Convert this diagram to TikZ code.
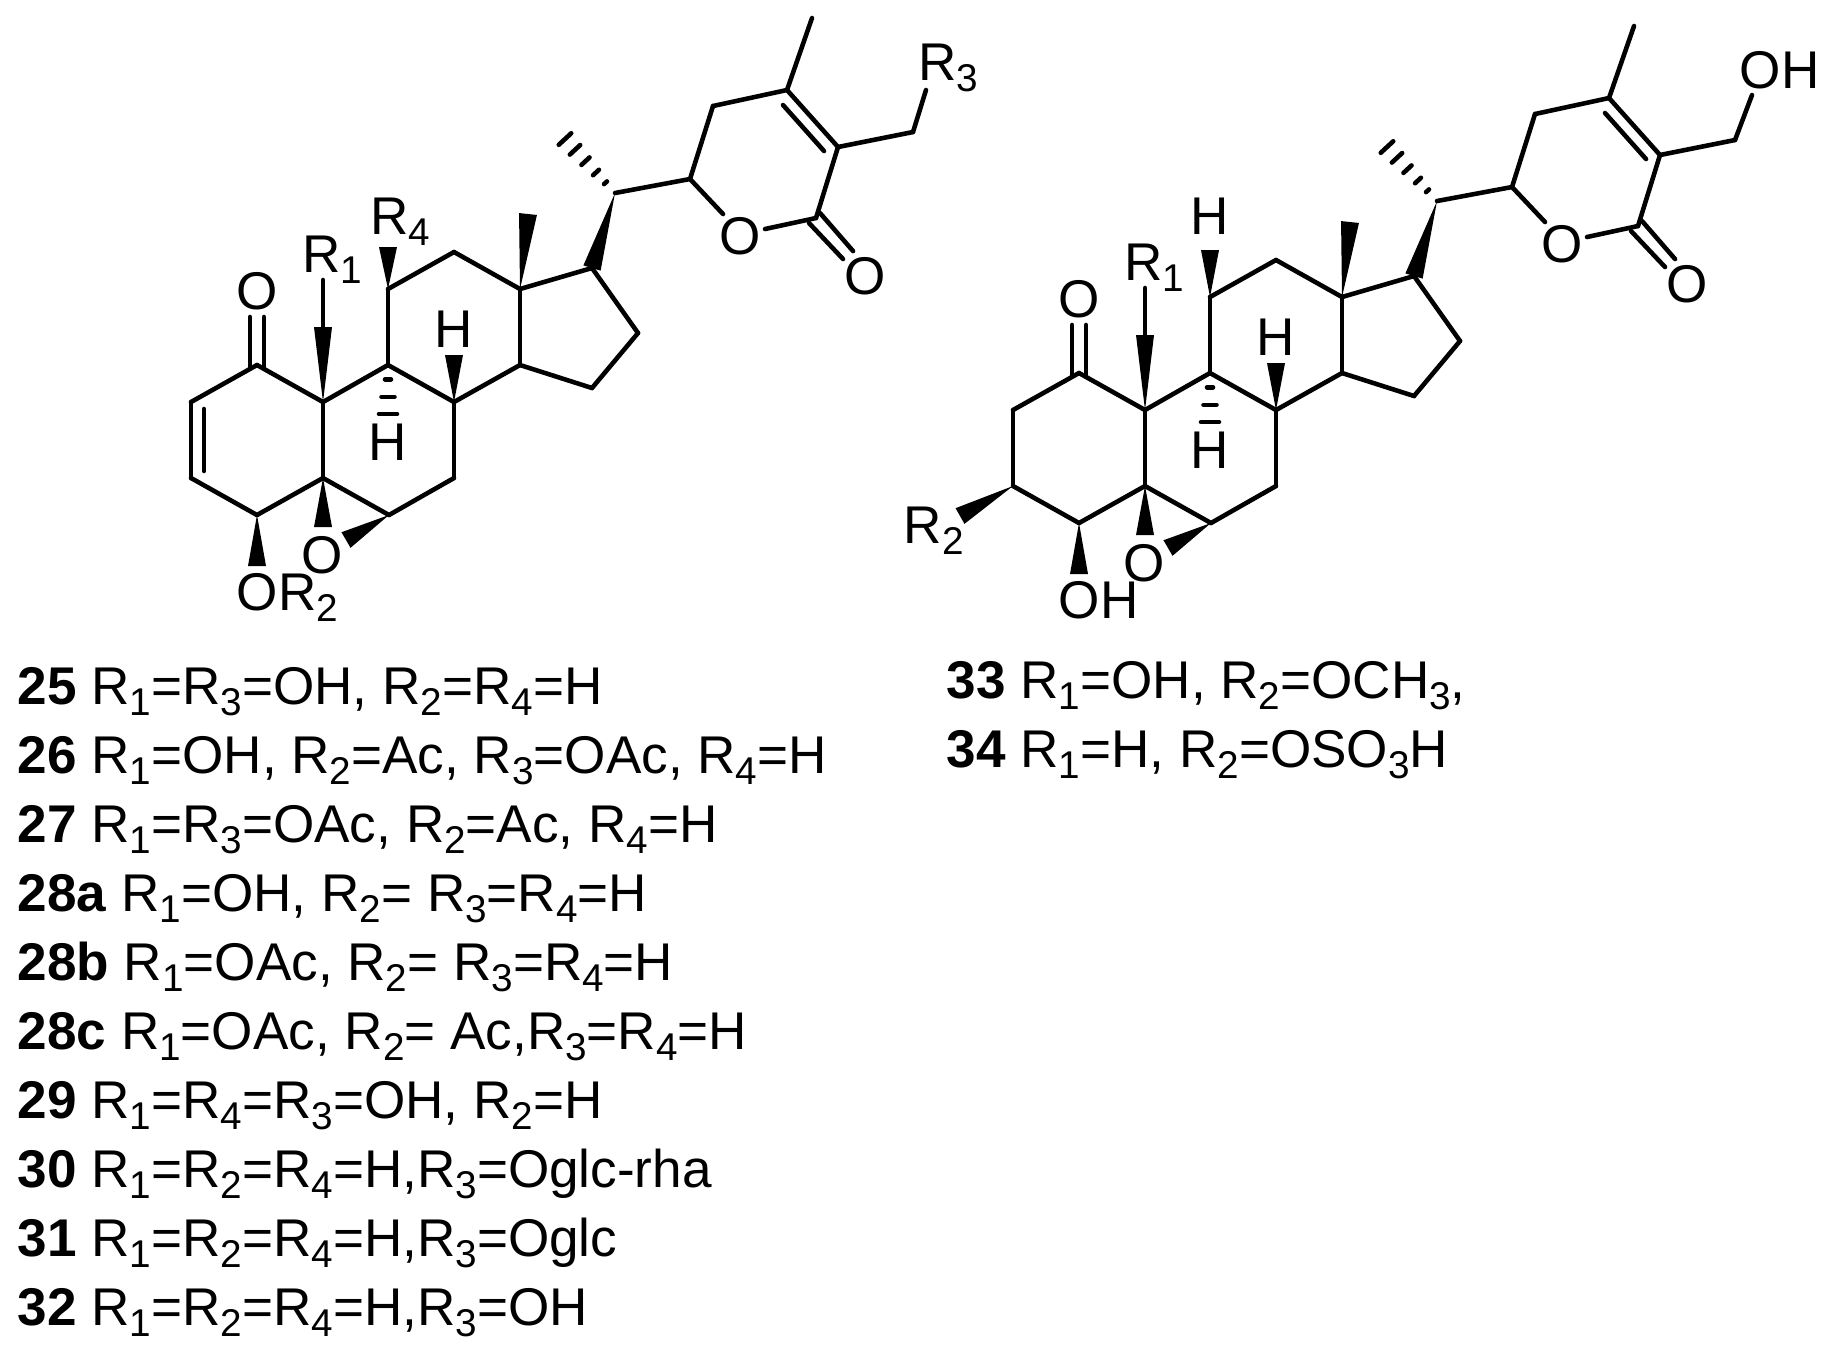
\documentclass[tikz,border=0pt]{standalone}
\usepackage{fontspec}
\setmainfont{Liberation Sans}
\usepackage{tikz}
\usetikzlibrary{calc}
\usepackage{tkz-euclide}

\tikzset{
	bond/.style={line width=1.3pt, line cap=round, line join=round},
	atomlbl/.style={inner sep=0pt, anchor=base, font=\fontsize{15.1pt}{15.1pt}\selectfont},
	listline/.style={inner sep=0pt, anchor=base west, font=\fontsize{15.1pt}{15.1pt}\selectfont}
}
\newcommand{\dn}[1]{\raisebox{-0.11cm}{\fontsize{11pt}{11pt}\selectfont #1}}
\newcommand{\Rs}[1]{R\dn{#1}}
\newcommand{\bondwedge}[2]{\fill[bond] (#1) -- ($(#2)!0.09cm!90:(#1)$) -- ($(#2)!0.09cm!-90:(#1)$) -- cycle;}
\newcommand{\bondhash}[3]{\foreach \f/\w in {#3}{
		\coordinate (hp) at ($(#1)!\f!(#2)$);
		\draw[bond] ($(hp)!\w cm!90:(#1)$) -- ($(hp)!\w cm!-90:(#1)$);}}

% rings B, C, D, side chain and lactone: the same in both molecules
\newcommand{\steroid}[1]{
	\tkzDefPoints{257/365/c1,191/402/c2,191/478/c3,257/515/c4,323/478/c5,389/515/c6,454/478/c7}
	\tkzDefPoints{454/402/c8,388/365/c9,323/402/c10,388/289/c11,454/252/c12,520/289/c13,520/365/c14}
	\tkzDefPoints{592/388/c15,638/333/c16,592/268/c17,615/193/c20,690/179/c22,713/106/c23,787/90/c24}
	\tkzDefPoints{838/147/c25,816/218/c26,913/132/c27,812/18/me,565/139/mh}
	\tkzDefPoints{723/214/oa,765/229/ob,783/105/da,824/151/db}
	\tkzDefPoints{820/213/ea,853/251/eb,809/223/fa,843/259/fb}
	\tkzDefPoints{250/317/ga,250/367/gb,264/317/ha,264/367/hb}
	\tkzDefPoints{323/280/ra,323/327/rb,388/247/wc,528/214/wd,454/355/we,323/527/wf,346/540/wg,257/566/wh,388/414/hh}

	\tkzDrawSegments[bond](c1,c10 c10,c5 c5,c4 c10,c9 c9,c8 c8,c7 c7,c6 c6,c5 c9,c11 c11,c12 c12,c13 c13,c14 c14,c8)
	\tkzDrawSegments[bond](c13,c17 c14,c15 c15,c16 c16,c17 c20,c22 c22,c23 c23,c24 c24,c25 c25,c26 c24,me c25,c27)
	\tkzDrawSegments[bond](c22,oa ob,c26 da,db ea,eb fa,fb ga,gb ha,hb ra,rb)

	\bondwedge{c10}{rb}
	\bondwedge{c13}{wd}
	\bondwedge{c20}{c17}
	\bondwedge{c8}{we}
	\bondwedge{c5}{wf}
	\bondwedge{c6}{wg}
	\bondwedge{c4}{wh}
	\bondhash{c20}{mh}{.19/.02,.38/.04,.59/.055,.8/.07,1/.085}
	\bondhash{c9}{hh}{.29/.03,.65/.065,1/.09}

	\node[atomlbl] (#1oket) at (257,309) {O};
	\node[atomlbl] (#1oring) at (740,254) {O};
	\node[atomlbl] (#1ocarb) at (865,294) {O};
	\node[atomlbl] (#1oepo) at (322,573) {O};
	\node[atomlbl] (#1rone) at (332,272) {\Rs{1}};
	\node[atomlbl] (#1hb) at (454,347) {H};
	\node[atomlbl] (#1ha) at (388,460) {H};
}

\begin{document}
\begin{tikzpicture}[x=0.01cm,y=-0.01cm]
	\useasboundingbox (0,0) rectangle (1843,1365);

	\steroid{l}
	\tkzDefPoints{926/90/rc}
	\tkzDrawSegments[bond](c1,c2 c2,c3 c3,c4 c27,rc)
	\tkzDefPoints{204/409/ia,204/471/ib}
	\tkzDrawSegment[bond](ia,ib)
	\bondwedge{c11}{wc}
	\node[atomlbl] (rfour) at (400,234) {\Rs{4}};
	\node[atomlbl] (rthree) at (948,80) {\Rs{3}};
	\node[atomlbl,anchor=base west] (otwo) at (236,610) {O\Rs{2}};

	\begin{scope}[shift={(822,8)}]
		\steroid{r}
		\tkzDefPoints{930/87/rc,138/508/wi}
		\tkzDrawSegments[bond](c1,c2 c2,c3 c3,c4 c27,rc)
		\bondwedge{c3}{wi}
		\tkzDefPoints{388/242/wc}
		\bondwedge{c11}{wc}
		\node[atomlbl] (hc) at (388,226) {H};
		\node[atomlbl,anchor=base west] (ohtop) at (917,80) {OH};
		\node[atomlbl,anchor=base west] (rtwo) at (81,535) {\Rs{2}};
		\node[atomlbl,anchor=base west] (ohlow) at (236,610) {OH};
	\end{scope}

	\node[listline] (ltf) at (17,704) {\textbf{25} \Rs{1}=\Rs{3}=OH, \Rs{2}=\Rs{4}=H};
	\node[listline] (lts) at (17,773) {\textbf{26} \Rs{1}=OH, \Rs{2}=Ac, \Rs{3}=OAc, \Rs{4}=H};
	\node[listline] (ltg) at (17,842) {\textbf{27} \Rs{1}=\Rs{3}=OAc, \Rs{2}=Ac, \Rs{4}=H};
	\node[listline] (lha) at (17,911) {\textbf{28a} \Rs{1}=OH, \Rs{2}= \Rs{3}=\Rs{4}=H};
	\node[listline] (lhb) at (17,980) {\textbf{28b} \Rs{1}=OAc, \Rs{2}= \Rs{3}=\Rs{4}=H};
	\node[listline] (lhc) at (17,1049) {\textbf{28c} \Rs{1}=OAc, \Rs{2}= Ac,\Rs{3}=\Rs{4}=H};
	\node[listline] (lnn) at (17,1118) {\textbf{29} \Rs{1}=\Rs{4}=\Rs{3}=OH, \Rs{2}=H};
	\node[listline] (lto) at (17,1187) {\textbf{30} \Rs{1}=\Rs{2}=\Rs{4}=H,\Rs{3}=Oglc-rha};
	\node[listline] (ltp) at (17,1256) {\textbf{31} \Rs{1}=\Rs{2}=\Rs{4}=H,\Rs{3}=Oglc};
	\node[listline] (ltq) at (17,1325) {\textbf{32} \Rs{1}=\Rs{2}=\Rs{4}=H,\Rs{3}=OH};
	\node[listline] (ltr) at (946,698) {\textbf{33} \Rs{1}=OH, \Rs{2}=OCH\dn{3},};
	\node[listline] (ltt) at (946,767) {\textbf{34} \Rs{1}=H, \Rs{2}=OSO\dn{3}H};
\end{tikzpicture}
\end{document}
